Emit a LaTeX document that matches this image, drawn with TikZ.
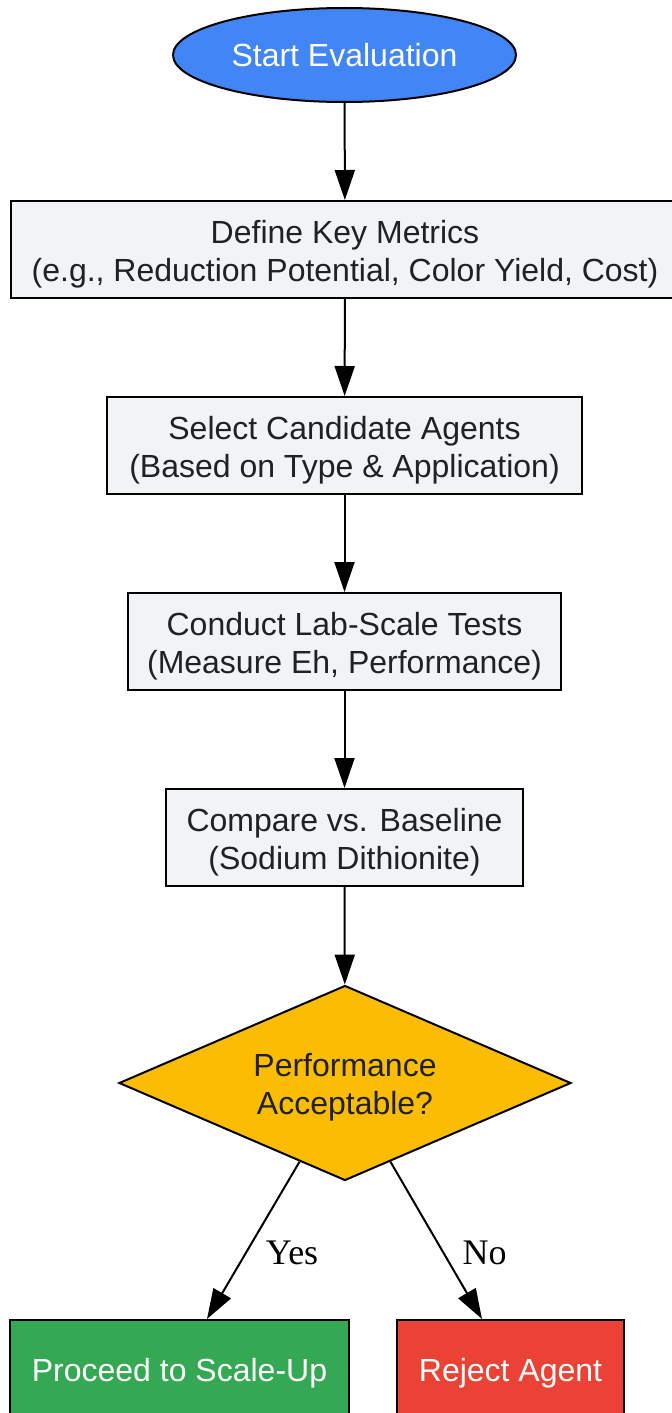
\documentclass[tikz,border=0pt]{standalone}
\usepackage{fontspec}
\setmainfont{Liberation Sans}
\newfontfamily\lblfont{Liberation Serif}
\usetikzlibrary{shapes.geometric,arrows.meta}
\definecolor{startblue}{HTML}{4285F4}
\definecolor{stepgray}{HTML}{F1F3F4}
\definecolor{askyellow}{HTML}{FBBC04}
\definecolor{yesgreen}{HTML}{34A853}
\definecolor{nored}{HTML}{EA4335}
\definecolor{inkgray}{HTML}{202124}
\newcommand{\lift}{\rule{0pt}{16pt}}

\begin{document}
\begin{tikzpicture}[x=0.5pt,y=-0.5pt]
  \tikzset{base/.style = {draw=black,line width=1pt,inner sep=0pt,align=center,
      font=\fontsize{16}{19}\selectfont}}
  \tikzset{startbox/.style = {base,ellipse,fill=startblue,text=white,
      minimum width=171.5pt,minimum height=47pt}}
  \tikzset{stepbox/.style = {base,rectangle,fill=stepgray,text=inkgray,minimum height=48.5pt}}
  \tikzset{askbox/.style = {base,diamond,aspect=2.3,fill=askyellow,text=inkgray,
      minimum width=226pt,minimum height=97.5pt}}
  \tikzset{endbox/.style = {base,rectangle,text=white,minimum height=48.5pt}}
  \tikzset{flow/.style = {-{Triangle[length=15pt,width=10pt]},line width=1pt}}
  \tikzset{lbl/.style = {font=\lblfont\fontsize{18}{20}\selectfont,inner sep=3pt}}

\useasboundingbox (0,0) rectangle (671,1413);

\node[startbox] (start)  at (344.5,55) {Start Evaluation};
\node[stepbox, minimum width=334pt] (metrics)  at (345,249.5)
  {\lift Define Key Metrics\\(e.g., Reduction Potential, Color Yield, Cost)};
\node[stepbox, minimum width=237.5pt] (select)  at (344.5,445.5)
  {\lift Select Candidate Agents\\(Based on Type \& Application)};
\node[stepbox, minimum width=216.5pt] (tests)  at (344.5,641.5)
  {\lift Conduct Lab-Scale Tests\\(Measure Eh, Performance)};
\node[stepbox, minimum width=178.5pt] (compare)  at (344.5,837.5)
  {\lift Compare vs. Baseline\\(Sodium Dithionite)};
\node[askbox] (decision)  at (345,1083) {\lift Performance\\Acceptable?};
\node[endbox, fill=yesgreen, minimum width=169.5pt] (proceed)  at (179.5,1368.5)
  {\lift Proceed to Scale-Up};
\node[endbox, fill=nored, minimum width=113.5pt] (reject)  at (510.5,1368.5)
  {\lift Reject Agent};

    \path[flow] (start) edge (metrics);
    \path[flow] (metrics) edge (select);
    \path[flow] (select) edge (tests);
    \path[flow] (tests) edge (compare);
    \path[flow] (compare) edge (decision);

      \path[flow] (decision.-120) edge node [lbl, pos=0.58, right=6.5pt] {Yes}
        ([xshift=13.75pt]proceed.north);
      \path[flow] (decision.-60) edge node [lbl, pos=0.58, right=6pt] {No}
        ([xshift=-14.25pt]reject.north);

\end{tikzpicture}
\end{document}
